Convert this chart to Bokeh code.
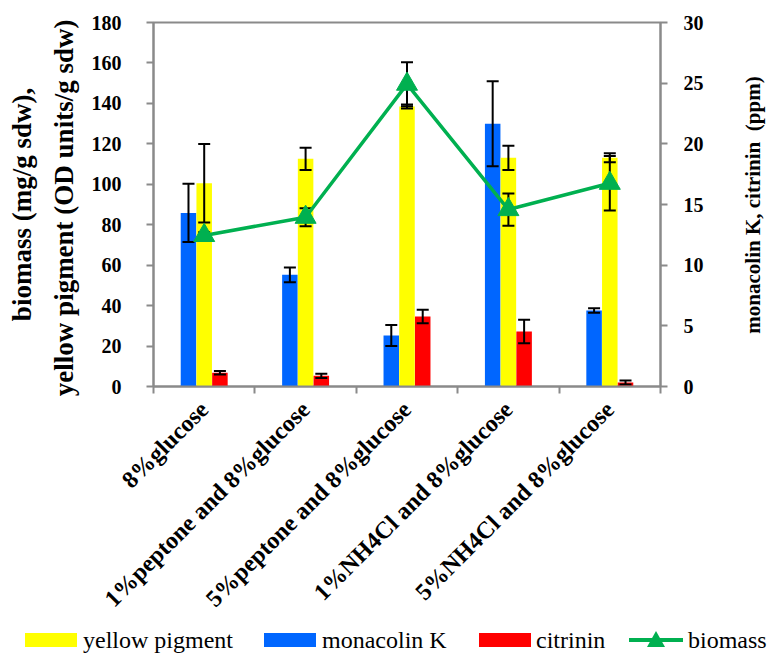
import math

from bokeh.embed import file_html
from bokeh.layouts import column, row
from bokeh.models import (ColumnDataSource, Div, FixedTicker, LinearAxis, Range1d,
                          TeeHead, Whisker)
from bokeh.plotting import figure
from bokeh.resources import INLINE

# ---- data -------------------------------------------------------------
categories = [
    "8%glucose",
    "1%peptone and 8%glucose",
    "5%peptone and 8%glucose",
    "1%NH4Cl and 8%glucose",
    "5%NH4Cl and 8%glucose",
]
# left axis: biomass (mg/g sdw) and yellow pigment (OD units/g sdw)
yellow_pigment = [100.5, 112.6, 138.5, 113.1, 113.1]
yellow_pigment_err = [19.4, 5.5, 1.0, 6.0, 2.2]
biomass = [74.7, 83.7, 149.5, 87.5, 100.5]
biomass_err = [1.6, 4.4, 10.9, 8.0, 13.5]
# right axis: monacolin K and citrinin (ppm)
monacolin_k = [14.3, 9.2, 4.2, 21.65, 6.26]
monacolin_k_err = [2.4, 0.6, 0.87, 3.5, 0.18]
citrinin = [1.13, 0.88, 5.77, 4.53, 0.33]
citrinin_err = [0.15, 0.18, 0.55, 0.97, 0.17]

left_ticks = list(range(0, 181, 20))
right_ticks = list(range(0, 31, 5))

left_title = "biomass (mg/g sdw),\nyellow  pigment (OD units/g sdw)"
right_title = "monacolin K, citrinin&nbsp; (ppm)"
legend_labels = ["yellow pigment", "monacolin K", "citrinin", "biomass"]

# ---- styling ----------------------------------------------------------
SERIF = "Liberation Serif"
CSS_SERIF = "'Liberation Serif', 'Times New Roman', serif !important"
AXIS_GRAY = "#8a8a8a"
YELLOW = "#FFFF00"
BLUE = "#0066FF"
RED = "#FF0000"
GREEN = "#00B050"
BAR_W = 0.153
OFFSET = 0.155
PLOT_H = 625
TOP, BOTTOM = 22, 239
LEGEND_H = 30

centers = [i + 0.5 for i in range(len(categories))]

p = figure(
    width=735, height=PLOT_H,
    x_range=Range1d(0, len(categories)),
    y_range=Range1d(left_ticks[0], left_ticks[-1]),
    output_backend="svg", toolbar_location=None,
    min_border_left=153, min_border_right=75,
    min_border_top=TOP, min_border_bottom=BOTTOM,
    background_fill_color="white", border_fill_color="white",
)
p.extra_y_ranges = {"ppm": Range1d(right_ticks[0], right_ticks[-1])}
p.xgrid.visible = False
p.ygrid.visible = False
p.outline_line_color = AXIS_GRAY
p.outline_line_width = 2

# ---- axes -------------------------------------------------------------
xa = p.xaxis[0]
xa.ticker = FixedTicker(ticks=centers, minor_ticks=list(range(len(categories) + 1)))
xa.major_label_overrides = {c: name for c, name in zip(centers, categories)}
xa.major_label_orientation = math.pi / 4
xa.major_tick_line_color = None
xa.major_tick_out = 0
xa.major_tick_in = 0
xa.minor_tick_line_color = AXIS_GRAY
xa.minor_tick_line_width = 2
xa.minor_tick_out = 7
xa.minor_tick_in = 0
xa.major_label_standoff = 12
xa.major_label_text_font_size = "24px"

ya = p.yaxis[0]
ya.ticker = FixedTicker(ticks=left_ticks, minor_ticks=[])
ya.major_label_standoff = 25
ya.axis_label = left_title
ya.axis_label_standoff = 10
ya.axis_label_text_font_size = "27px"
ya.axis_label_text_line_height = 1.38

ra = LinearAxis(y_range_name="ppm",
                ticker=FixedTicker(ticks=right_ticks, minor_ticks=[]))
ra.major_label_standoff = 16
p.add_layout(ra, "right")

for ax in (xa, ya, ra):
    ax.axis_line_color = AXIS_GRAY
    ax.axis_line_width = 2
    ax.major_label_text_font = SERIF
    ax.major_label_text_font_style = "bold"
    ax.major_label_text_color = "black"
    ax.axis_label_text_font = SERIF
    ax.axis_label_text_font_style = "bold"
    ax.axis_label_text_color = "black"
for ax in (ya, ra):
    ax.major_tick_out = 7
    ax.major_tick_in = 0
    ax.major_tick_line_color = AXIS_GRAY
    ax.major_tick_line_width = 2
    ax.minor_tick_line_color = None
    ax.major_label_text_font_size = "20px"

# ---- bars -------------------------------------------------------------
src = ColumnDataSource(dict(
    x=centers,
    x_mk=[c - OFFSET for c in centers],
    x_ct=[c + OFFSET for c in centers],
    yellow=yellow_pigment,
    mk=monacolin_k,
    ct=citrinin,
    bio=biomass,
    yellow_hi=[v + e for v, e in zip(yellow_pigment, yellow_pigment_err)],
    yellow_lo=[v - e for v, e in zip(yellow_pigment, yellow_pigment_err)],
    mk_hi=[v + e for v, e in zip(monacolin_k, monacolin_k_err)],
    mk_lo=[v - e for v, e in zip(monacolin_k, monacolin_k_err)],
    ct_hi=[v + e for v, e in zip(citrinin, citrinin_err)],
    ct_lo=[v - e for v, e in zip(citrinin, citrinin_err)],
    bio_hi=[v + e for v, e in zip(biomass, biomass_err)],
    bio_lo=[v - e for v, e in zip(biomass, biomass_err)],
))

# bars sit on the lowest level so the error bars (underlay) draw over them
p.vbar(x="x_mk", top="mk", width=BAR_W, bottom=0, source=src, level="image",
       y_range_name="ppm", fill_color=BLUE, line_color=None)
p.vbar(x="x", top="yellow", width=BAR_W, bottom=0, source=src, level="image",
       fill_color=YELLOW, line_color=None)
p.vbar(x="x_ct", top="ct", width=BAR_W, bottom=0, source=src, level="image",
       y_range_name="ppm", fill_color=RED, line_color=None)


def error_bars(base, upper, lower, range_name="default"):
    w = Whisker(source=src, base=base, upper=upper, lower=lower,
                y_range_name=range_name, line_color="black", line_width=2,
                level="underlay",
                upper_head=TeeHead(size=12, line_width=2, line_color="black"),
                lower_head=TeeHead(size=12, line_width=2, line_color="black"))
    p.add_layout(w)


error_bars("x_mk", "mk_hi", "mk_lo", "ppm")
error_bars("x", "yellow_hi", "yellow_lo")
error_bars("x_ct", "ct_hi", "ct_lo", "ppm")
error_bars("x", "bio_hi", "bio_lo")

# ---- biomass line -----------------------------------------------------
p.line(x="x", y="bio", source=src, line_color=GREEN, line_width=3.5)
p.scatter(x="x", y="bio", source=src, marker="triangle", size=21,
          fill_color=GREEN, line_color=GREEN)

# ---- right-hand axis title (reads bottom to top) ---------------------
right_title_div = Div(
    width=41, height=PLOT_H, margin=(0, 0, 0, 0),
    text=(
        f'<div style="position:relative;width:41px;height:{PLOT_H}px;">'
        '<div style="position:absolute;left:18px;top:205px;'
        'transform:translate(-50%,-50%) rotate(-90deg);white-space:nowrap;'
        f'font-family:{CSS_SERIF};font-weight:bold;font-size:21px;'
        f'line-height:24px;color:black;">{right_title}</div></div>'
    ),
)

# ---- legend strip -----------------------------------------------------
def bar_key(left, color):
    return (f'<span style="position:absolute;left:{left}px;top:8px;'
            f'width:52px;height:14px;background:{color};"></span>')


def key_text(left, label):
    return (f'<span style="position:absolute;left:{left}px;top:0px;'
            f'font-family:{CSS_SERIF};font-size:24px;color:black;'
            f'line-height:30px;white-space:nowrap;">{label}</span>')


line_key = (
    '<span style="position:absolute;left:629px;top:13px;width:54px;'
    f'height:4px;background:{GREEN};"></span>'
    '<span style="position:absolute;left:647px;top:6px;width:0;height:0;'
    'border-left:9px solid transparent;border-right:9px solid transparent;'
    f'border-bottom:16px solid {GREEN};"></span>'
)
legend_div = Div(
    width=776, height=LEGEND_H, margin=(0, 0, 0, 0),
    text=(
        f'<div style="position:relative;width:776px;height:{LEGEND_H}px;">'
        + bar_key(25, YELLOW) + key_text(83, legend_labels[0])
        + bar_key(264, BLUE) + key_text(322, legend_labels[1])
        + bar_key(479, RED) + key_text(536, legend_labels[2])
        + line_key + key_text(688, legend_labels[3])
        + '</div>'
    ),
)

layout = column(row(p, right_title_div, spacing=0), legend_div, spacing=0)
open("out.html", "w").write(file_html(layout, INLINE))
